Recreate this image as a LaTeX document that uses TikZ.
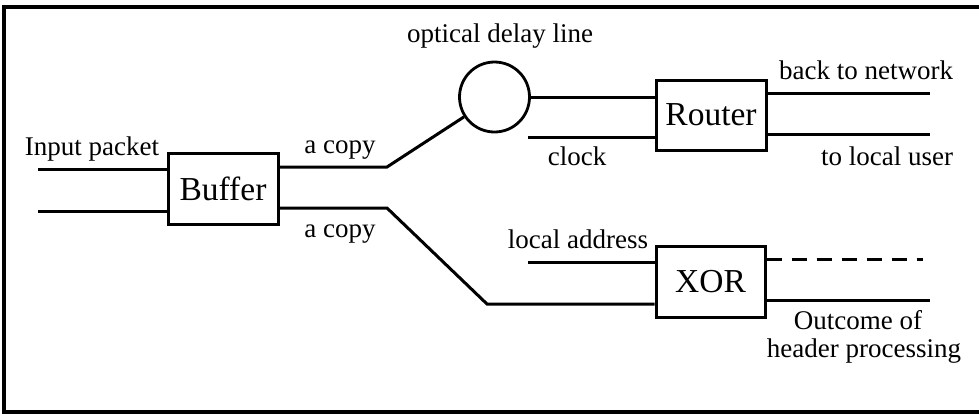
\documentclass[tikz,border=0pt]{standalone}
\usepackage{fontspec}
\setmainfont{Liberation Serif}
\begin{document}
\begin{tikzpicture}[x=1pt,y=-1pt,
  wire/.style={line width=3pt},
  blk/.style={draw, rectangle, line width=3pt, inner sep=0pt,
    font=\fontsize{33.5}{36}\selectfont},
  ring/.style={draw, circle, line width=2.8pt, inner sep=0pt, minimum size=70pt},
  lbl/.style={anchor=base, inner sep=0pt, font=\fontsize{27}{30}\selectfont},
  dashwire/.style={wire, dash pattern=on 15pt off 10pt},
]
\useasboundingbox (0,0) rectangle (979,416);
% outer frame
\draw[line width=3.5pt] (4,7) rectangle (992,412);

% blocks
\node[blk, minimum width=110pt, minimum height=71pt] (buf) at (223,188.5) {Buffer};
\node[blk, minimum width=110pt, minimum height=70pt] (rt) at (711,115) {Router};
\node[blk, minimum width=109pt, minimum height=71pt] (xor) at (710.5,281.5) {XOR};
\node[ring] (dl) at (494.5,97) {};

% wire end points and bends
\coordinate (in1) at (38,169);
\coordinate (in2) at (38,211);
\coordinate (bend1) at (387,167);
\coordinate (bend2) at (387,208);
\coordinate (low) at (487,304);
\coordinate (clk) at (528,137);
\coordinate (la) at (528,262);
\coordinate (net) at (930,93);
\coordinate (usr) at (930,134);
\coordinate (dsh) at (923,259);
\coordinate (outc) at (930,300);

% input side
\draw[wire] (in1) -- (in1 -| buf.west);
\draw[wire] (in2) -- (in2 -| buf.west);
% copies leaving the buffer
\draw[wire] (bend1 -| buf.east) -- (bend1) -- (dl);
\draw[wire] (bend2 -| buf.east) -- (bend2) -- (low) -- (low -| xor.west);
% delay line into router
\draw[wire] (dl.east) -- (dl.east -| rt.west);
\draw[wire] (clk) -- (clk -| rt.west);
% router outputs
\draw[wire] (net -| rt.east) -- (net);
\draw[wire] (usr -| rt.east) -- (usr);
% XOR
\draw[wire] (la) -- (la -| xor.west);
\draw[dashwire] (dsh -| xor.east) -- (dsh);
\draw[wire] (outc -| xor.east) -- (outc);

% labels
\node[lbl] (tIn) at (92,155) {Input packet};
\node[lbl] (tCp1) at (340,153) {a copy};
\node[lbl] (tCp2) at (340,237) {a copy};
\node[lbl] (tOdl) at (500,42) {optical delay line};
\node[lbl] (tClk) at (577,165) {clock};
\node[lbl] (tNet) at (866,79) {back to network};
\node[lbl] (tUsr) at (887,165) {to local user};
\node[lbl] (tLa) at (578,248) {local address};
\node[lbl] (tOut1) at (858,329) {Outcome of};
\node[lbl] (tOut2) at (864,357) {header processing};
\end{tikzpicture}
\end{document}
